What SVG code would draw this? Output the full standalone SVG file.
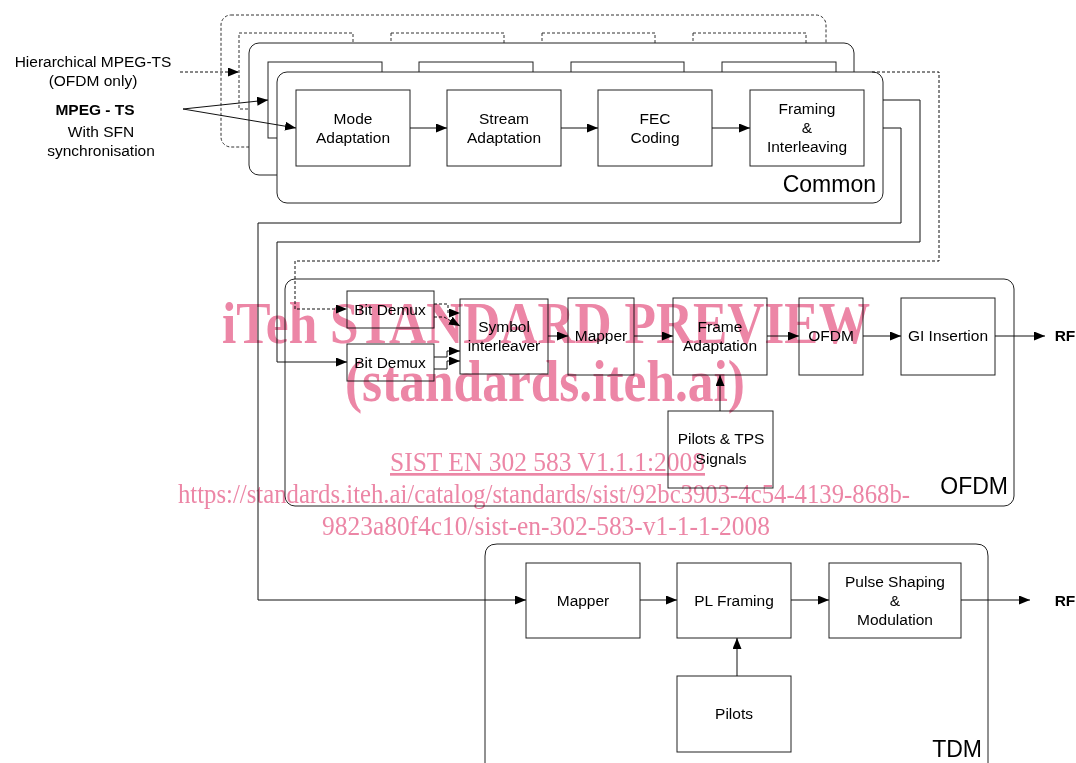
<svg xmlns="http://www.w3.org/2000/svg" width="1076" height="763" viewBox="0 0 1076 763">
<defs>
<style>
.frame{fill:#fff;stroke:#222;stroke-width:1}
.dframe{fill:#fff;stroke:#333;stroke-width:1;stroke-dasharray:3,2}
.blk{fill:#fff;stroke:#222;stroke-width:1}
.dblk{fill:#fff;stroke:#333;stroke-width:1;stroke-dasharray:3,2}
.t{font-family:"Liberation Sans",Arial,sans-serif;font-size:15.5px;fill:#000;text-anchor:middle}
.big{font-family:"Liberation Sans",Arial,sans-serif;font-size:23px;fill:#000;text-anchor:end}
.b{font-weight:bold}
.ln{fill:none;stroke:#111;stroke-width:1}
.dl{fill:none;stroke:#111;stroke-width:1;stroke-dasharray:3,2}
.wm{font-family:"Liberation Serif","Times New Roman",serif;fill:#ec86a6;mix-blend-mode:multiply}
</style>
<marker id="ah" markerWidth="12" markerHeight="10" refX="11" refY="4.5" orient="auto" markerUnits="userSpaceOnUse">
<path d="M0,0 L11,4.5 L0,9 Z" fill="#000"/>
</marker>
</defs>
<rect width="1076" height="763" fill="#fff"/>

<!-- Common: back (dashed) layer -->
<g id="common-back">
<rect class="dframe" x="221" y="15" width="605" height="132" rx="10"/>
<rect class="dblk" x="239" y="33" width="114" height="76"/>
<rect class="dblk" x="391" y="33" width="113" height="76"/>
<rect class="dblk" x="542" y="33" width="113" height="76"/>
<rect class="dblk" x="693" y="33" width="113" height="76"/>
</g>
<!-- Common: middle layer -->
<g id="common-middle">
<rect class="frame" x="249" y="43" width="605" height="132" rx="10"/>
<rect class="blk" x="268" y="62" width="114" height="76"/>
<rect class="blk" x="419" y="62" width="114" height="76"/>
<rect class="blk" x="571" y="62" width="113" height="76"/>
<rect class="blk" x="722" y="62" width="114" height="76"/>
</g>
<!-- Common: front layer -->
<g id="common">
<rect class="frame" x="277" y="72" width="606" height="131" rx="10"/>
<text class="big" x="876" y="192">Common</text>
</g>
<g id="mode-adaptation">
<rect class="blk" x="296" y="90" width="114" height="76"/>
<text class="t" x="353" y="124">Mode</text>
<text class="t" x="353" y="143">Adaptation</text>
</g>
<g id="stream-adaptation">
<rect class="blk" x="447" y="90" width="114" height="76"/>
<text class="t" x="504" y="124">Stream</text>
<text class="t" x="504" y="143">Adaptation</text>
</g>
<g id="fec-coding">
<rect class="blk" x="598" y="90" width="114" height="76"/>
<text class="t" x="655" y="124">FEC</text>
<text class="t" x="655" y="143">Coding</text>
</g>
<g id="framing-interleaving">
<rect class="blk" x="750" y="90" width="114" height="76"/>
<text class="t" x="807" y="114">Framing</text>
<text class="t" x="807" y="133">&amp;</text>
<text class="t" x="807" y="152">Interleaving</text>
</g>

<!-- Inputs -->
<g id="inputs">
<text class="t" x="93" y="67">Hierarchical MPEG-TS</text>
<text class="t" x="93" y="86">(OFDM only)</text>
<text class="t b" x="95" y="115">MPEG - TS</text>
<text class="t" x="101" y="137">With SFN</text>
<text class="t" x="101" y="156">synchronisation</text>
</g>

<!-- OFDM -->
<g id="ofdm">
<rect class="frame" x="285" y="279" width="729" height="227" rx="10"/>
<text class="big" x="1008" y="494">OFDM</text>
</g>
<g id="bit-demux-1">
<rect class="blk" x="347" y="291" width="87" height="37"/>
<text class="t" x="390" y="315">Bit Demux</text>
</g>
<g id="bit-demux-2">
<rect class="blk" x="347" y="344" width="87" height="37"/>
<text class="t" x="390" y="368">Bit Demux</text>
</g>
<g id="symbol-interleaver">
<rect class="blk" x="460" y="299" width="88" height="75"/>
<text class="t" x="504" y="332">Symbol</text>
<text class="t" x="504" y="351">interleaver</text>
</g>
<g id="ofdm-mapper">
<rect class="blk" x="568" y="298" width="66" height="77"/>
<text class="t" x="601" y="341">Mapper</text>
</g>
<g id="frame-adaptation">
<rect class="blk" x="673" y="298" width="94" height="77"/>
<text class="t" x="720" y="332">Frame</text>
<text class="t" x="720" y="351">Adaptation</text>
</g>
<g id="ofdm-block">
<rect class="blk" x="799" y="298" width="64" height="77"/>
<text class="t" x="831" y="341">OFDM</text>
</g>
<g id="gi-insertion">
<rect class="blk" x="901" y="298" width="94" height="77"/>
<text class="t" x="948" y="341">GI Insertion</text>
</g>
<g id="pilots-tps">
<rect class="blk" x="668" y="411" width="105" height="77"/>
<text class="t" x="721" y="444">Pilots &amp; TPS</text>
<text class="t" x="721" y="464">Signals</text>
</g>
<g id="rf-ofdm">
<text class="t b" x="1065" y="341">RF</text>
</g>

<!-- TDM -->
<g id="tdm">
<path class="frame" d="M485,780 L485,556 Q485,544 497,544 L976,544 Q988,544 988,556 L988,780"/>
<text class="big" x="982" y="757">TDM</text>
</g>
<g id="tdm-mapper">
<rect class="blk" x="526" y="563" width="114" height="75"/>
<text class="t" x="583" y="606">Mapper</text>
</g>
<g id="pl-framing">
<rect class="blk" x="677" y="563" width="114" height="75"/>
<text class="t" x="734" y="606">PL Framing</text>
</g>
<g id="pulse-shaping">
<rect class="blk" x="829" y="563" width="132" height="75"/>
<text class="t" x="895" y="587">Pulse Shaping</text>
<text class="t" x="895" y="606">&amp;</text>
<text class="t" x="895" y="625">Modulation</text>
</g>
<g id="pilots">
<rect class="blk" x="677" y="676" width="114" height="76"/>
<text class="t" x="734" y="719">Pilots</text>
</g>
<g id="rf-tdm">
<text class="t b" x="1065" y="606">RF</text>
</g>

<!-- Connectors -->
<g id="connectors">
<path class="dl" d="M180,72 L239,72" marker-end="url(#ah)"/>
<path class="ln" d="M183,109 L268,100" marker-end="url(#ah)"/>
<path class="ln" d="M183,109 L296,128" marker-end="url(#ah)"/>
<path class="ln" d="M410,128 L447,128" marker-end="url(#ah)"/>
<path class="ln" d="M561,128 L598,128" marker-end="url(#ah)"/>
<path class="ln" d="M712,128 L750,128" marker-end="url(#ah)"/>
<path class="dl" d="M872,72 L939,72 L939,261 L295,261 L295,309 L347,309" marker-end="url(#ah)"/>
<path class="ln" d="M883,100 L920,100 L920,242 L277,242 L277,362 L347,362" marker-end="url(#ah)"/>
<path class="ln" d="M883,128 L901,128 L901,223 L258,223 L258,600 L526,600" marker-end="url(#ah)"/>
<path class="dl" d="M434,304 L448,304 L448,313 L460,313" marker-end="url(#ah)"/>
<path class="dl" d="M434,317 L444,317 L460,326" marker-end="url(#ah)"/>
<path class="ln" d="M434,357 L447,357 L447,351 L460,351" marker-end="url(#ah)"/>
<path class="ln" d="M434,369 L447,369 L447,361 L460,361" marker-end="url(#ah)"/>
<path class="ln" d="M548,336 L568,336" marker-end="url(#ah)"/>
<path class="ln" d="M634,336 L673,336" marker-end="url(#ah)"/>
<path class="ln" d="M767,336 L799,336" marker-end="url(#ah)"/>
<path class="ln" d="M863,336 L901,336" marker-end="url(#ah)"/>
<path class="ln" d="M995,336 L1045,336" marker-end="url(#ah)"/>
<path class="ln" d="M720,411 L720,375" marker-end="url(#ah)"/>
<path class="ln" d="M640,600 L677,600" marker-end="url(#ah)"/>
<path class="ln" d="M791,600 L829,600" marker-end="url(#ah)"/>
<path class="ln" d="M961,600 L1030,600" marker-end="url(#ah)"/>
<path class="ln" d="M737,676 L737,638" marker-end="url(#ah)"/>
</g>

<!-- Watermark -->
<g id="watermark">
<text class="wm" x="222" y="343" font-size="60" font-weight="bold" textLength="648" lengthAdjust="spacingAndGlyphs">iTeh STANDARD PREVIEW</text>
<text class="wm" x="345" y="401" font-size="60" font-weight="bold" textLength="400" lengthAdjust="spacingAndGlyphs">(standards.iteh.ai)</text>
<text class="wm" x="390" y="471" font-size="27" textLength="315" lengthAdjust="spacingAndGlyphs" text-decoration="underline">SIST EN 302 583 V1.1.1:2008</text>
<text class="wm" x="178" y="503" font-size="27" textLength="732" lengthAdjust="spacingAndGlyphs">https://standards.iteh.ai/catalog/standards/sist/92bc3903-4c54-4139-868b-</text>
<text class="wm" x="322" y="535" font-size="27" textLength="448" lengthAdjust="spacingAndGlyphs">9823a80f4c10/sist-en-302-583-v1-1-1-2008</text>
</g>
</svg>
